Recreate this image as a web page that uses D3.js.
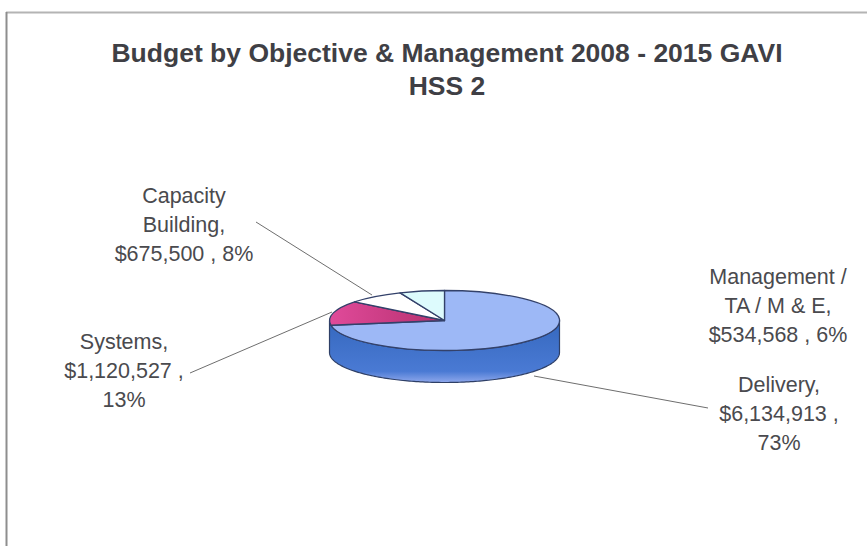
<!DOCTYPE html>
<html>
<head>
<meta charset="utf-8">
<script src="https://cdn.jsdelivr.net/npm/d3@7"></script>
<style>
  html, body { margin: 0; padding: 0; background: #fff; }
  svg { display: block; }
  text { font-family: "Liberation Sans", Arial, sans-serif; fill: #4A4A4E; }
</style>
</head>
<body>
<svg id="chart" width="867" height="546"></svg>
<script>
// Budget figures by objective, in pie order (clockwise from 12 o'clock)
const categories = ["Delivery", "Systems", "Capacity Building", "Management / TA / M & E"];
const amounts = [6134913, 1120527, 675500, 534568];
const percents = [73, 13, 8, 6];
const titleLines = ["Budget by Objective & Management 2008 - 2015 GAVI", "HSS 2"];

// Text blocks, one per slice, wrapped the way the chart sets them
const labelLines = [
  ["Delivery,", "$6,134,913 ,", "73%"],
  ["Systems,", "$1,120,527 ,", "13%"],
  ["Capacity", "Building,", "$675,500 , 8%"],
  ["Management /", "TA / M & E,", "$534,568 , 6%"]
];

// Layout
const pieLayout = { cx: 444.5, cy: 320.5, rx: 115, ry: 30, depth: 32 };
const labelLayout = [
  { x: 779, y: 392 },
  { x: 124, y: 349 },
  { x: 184, y: 203 },
  { x: 778, y: 284 }
];
const leaderLayout = [
  { from: [708, 408], to: [534, 376] },
  { from: [190, 373], to: [332, 312] },
  { from: [256, 222], to: [372, 295] }
];
const topColors = ["#9DB8F6", "#D9418E", "#FFFFFF", "#DDFBFD"];

const svg = d3.select("#chart");
const { cx, cy, rx, ry, depth } = pieLayout;

const defs = svg.append("defs");
const wallGrad = defs.append("linearGradient").attr("id", "wall")
  .attr("x1", 0).attr("x2", 0).attr("y1", 0).attr("y2", 1);
wallGrad.append("stop").attr("offset", "0%").attr("stop-color", "#3568BE");
wallGrad.append("stop").attr("offset", "82%").attr("stop-color", "#4A7AD4");
wallGrad.append("stop").attr("offset", "100%").attr("stop-color", "#8FA8EC");

const sliceGrad = defs.append("linearGradient").attr("id", "systems")
  .attr("x1", 0).attr("x2", 1).attr("y1", 0).attr("y2", 0);
sliceGrad.append("stop").attr("offset", "0%").attr("stop-color", "#E04A9A");
sliceGrad.append("stop").attr("offset", "100%").attr("stop-color", "#B5306E");

// Page frame
const frame = svg.append("g").attr("fill", "none").attr("stroke", "#B4B4B4");
frame.append("line").attr("x1", 6).attr("x2", 867).attr("y1", 12.5).attr("y2", 12.5).attr("stroke-width", 2);
frame.append("line").attr("x1", 6.5).attr("x2", 6.5).attr("y1", 12).attr("y2", 546).attr("stroke-width", 2).attr("stroke", "#8E8E8E");

// Title
svg.append("g").selectAll("text").data(titleLines).join("text")
  .attr("x", 447)
  .attr("y", (d, i) => 62 + i * 33)
  .attr("text-anchor", "middle")
  .attr("font-size", 26.5)
  .attr("font-weight", "bold")
  .style("fill", "#3F3F45")
  .text(d => d);

// Slice angles, clockwise from 12 o'clock
const pieGen = d3.pie().value(d => d).sort(null);
const slices = pieGen(amounts);

// A point on the tilted rim at a given slice angle
const rimX = d3.scaleLinear().domain([-1, 1]).range([cx - rx, cx + rx]);
const rimY = d3.scaleLinear().domain([-1, 1]).range([cy - ry, cy + ry]);
const rim = a => [rimX(Math.sin(a)), rimY(-Math.cos(a))];

// Leader lines sit behind the pie
svg.append("g").selectAll("line").data(leaderLayout).join("line")
  .attr("x1", d => d.from[0]).attr("y1", d => d.from[1])
  .attr("x2", d => d.to[0]).attr("y2", d => d.to[1])
  .attr("stroke", "#6E6E6E").attr("stroke-width", 1);

// Side wall: the visible front rim runs from 90deg to 270deg
const delivery = slices[0];
const wallAngles = d3.range(Math.PI / 2, Math.min(delivery.endAngle + 0.2, 3 * Math.PI / 2) + 0.001, 0.02);
const upperEdge = wallAngles.map(rim);
const lowerEdge = upperEdge.map(p => [p[0], p[1] + depth]).reverse();
const rimLine = d3.line();
svg.append("path")
  .attr("d", rimLine(upperEdge.concat(lowerEdge)) + "Z")
  .attr("fill", "url(#wall)")
  .attr("stroke", "#2E3F66")
  .attr("stroke-width", 1.2)
  .attr("stroke-linejoin", "round");

// Top face: unit-radius arcs squashed into the tilted ellipse
const arcGen = d3.arc().innerRadius(0).outerRadius(1);
svg.append("g")
  .selectAll("path").data(slices).join("path")
  .attr("transform", `translate(${cx},${cy}) scale(${rx},${ry})`)
  .attr("d", arcGen)
  .attr("fill", (d, i) => i === 1 ? "url(#systems)" : topColors[i])
  .attr("stroke", "#33416A")
  .attr("stroke-width", 1.3)
  .attr("vector-effect", "non-scaling-stroke")
  .attr("stroke-linejoin", "round");

// Data labels
const labels = svg.append("g").selectAll("text").data(labelLines).join("text")
  .attr("text-anchor", "middle")
  .attr("font-size", 21.5);
labels.selectAll("tspan").data((d, i) => d.map(line => ({ line, i }))).join("tspan")
  .attr("x", d => labelLayout[d.i].x)
  .attr("y", (d, j) => labelLayout[d.i].y + j * 29)
  .text(d => d.line);
</script>
</body>
</html>
